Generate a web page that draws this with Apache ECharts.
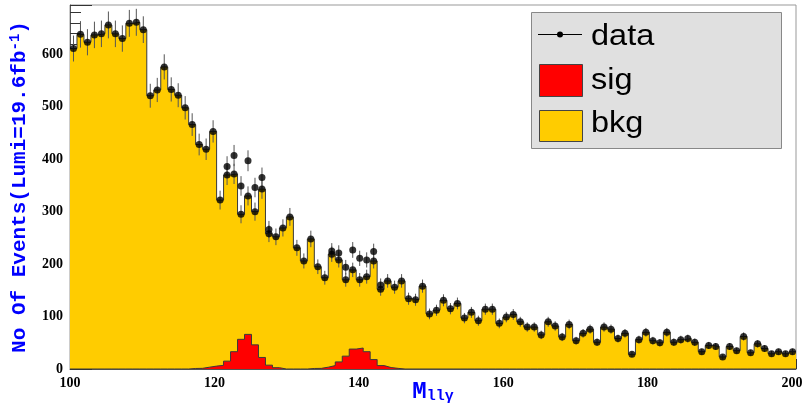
<!DOCTYPE html>
<html><head><meta charset="utf-8">
<script src="https://cdn.jsdelivr.net/npm/echarts@6/dist/echarts.min.js"></script>
<style>html,body{margin:0;padding:0;background:#fff}#c{width:803px;height:406px}</style>
</head><body><div id="c"></div>
<script>
// ---- data ----
const xTicks = [100, 120, 140, 160, 180, 200];
const yTicks = [0, 100, 200, 300, 400, 500, 600];
const X_MIN = 100, X_MAX = 200.55;   // histogram range (frame)
const Y_MAX = 694;

// background histogram (= data in bkg-only bins), 104 bins
const bkg = [611,638,623,637,639,656,639,630,659,661,647,521,532,576,533,522,498,466,428,419,
             453,322,370,372,295,330,300,343,258,252,269,290,231,206,248,195,174,219,208,170,
             189,170,176,206,152,168,156,168,134,132,158,105,112,131,115,125,97,108,92,114,
             114,87,99,104,90,80,80,65,90,82,61,85,54,68,76,51,80,76,58,68,
             28,56,70,54,50,70,51,56,58,51,33,45,43,23,43,35,62,31,48,39,
             29,33,29,33];
// signal histogram, 104 bins
const sig = [0,0,0,0,0,0,0,0,0,0,0,0,0,0,0,0,0,1,1.3,3.5,
             5.5,7,15,33,56.6,66,46,22,7.3,2.5,0,0,0,0,1,1.2,3.5,6.5,13.5,24.5,
             38,40,33,18,6.5,2.8,1.2,0,0,0,0,0,0,0,0,0,0,0,0,0,
             0,0,0,0,0,0,0,0,0,0,0,0,0,0,0,0,0,0,0,0,
             0,0,0,0,0,0,0,0,0,0,0,0,0,0,0,0,0,0,0,0,
             0,0,0,0];
// second set of data points in the signal regions (bin index, value)
const extraBins = [22,23,24,25,26,27,28,37,38,39,40,41,42,43,44];
const extraVals = [386,407,349,397,346,365,266,225,221,194,227,211,208,224,160];

// ---- build series data ----
const n = bkg.length;
const w = (X_MAX - X_MIN) / n;
const edges = bkg.map((_, i) => X_MIN + i * w);
const centers = edges.map(e => e + w / 2);
function stepData(vals) {
  const d = vals.map((v, i) => [edges[i], v]);
  d.push([X_MAX, vals[vals.length - 1]]);
  return d;
}
const dataPts = bkg.map((v, i) => [centers[i], v])
  .concat(extraBins.map((b, k) => [centers[b], extraVals[k]]));

const tickFont = {fontFamily: 'Liberation Serif', fontWeight: 'bold', fontSize: 14, color: '#000'};
const blueMono = {fontFamily: 'Liberation Mono', fontWeight: 'bold', color: '#0000ff'};

const chart = echarts.init(document.getElementById('c'), null, {renderer: 'canvas'});
chart.setOption({
  animation: false,
  backgroundColor: '#fff',
  grid: {left: 70, top: 5, width: 726, height: 364, containLabel: false, outerBoundsMode: 'none',
         show: true, borderColor: '#999', borderWidth: 1, backgroundColor: 'transparent'},
  xAxis: [
    {type: 'value', min: X_MIN, max: X_MAX, interval: 20, position: 'bottom',
     axisLine: {show: true, lineStyle: {color: '#555', width: 1}},
     axisTick: {show: true, inside: true, length: 10, lineStyle: {color: '#333'}},
     axisLabel: Object.assign({margin: 7, formatter: v => xTicks.indexOf(v) >= 0 ? String(v) : ''}, tickFont),
     splitLine: {show: false},
     name: '{m|M}{s|llγ}', nameLocation: 'middle', nameGap: 10, nameMoveOverlap: false,
     nameTextStyle: {rich: {m: Object.assign({fontSize: 24}, blueMono), s: Object.assign({fontSize: 15, padding: [10, 0, 0, 0]}, blueMono)}}},
    {type: 'value', min: X_MIN, max: X_MAX, interval: 5, position: 'bottom', offset: 0,
     axisLine: {show: false}, axisLabel: {show: false}, splitLine: {show: false},
     axisTick: {show: true, inside: true, length: 5, lineStyle: {color: '#333'}}}
  ],
  yAxis: [
    {type: 'value', min: 0, max: Y_MAX, interval: 100, position: 'left',
     axisLine: {show: true, lineStyle: {color: '#555', width: 1}},
     axisTick: {show: true, inside: true, length: 22, lineStyle: {color: '#333'}},
     axisLabel: Object.assign({margin: 7, formatter: v => yTicks.indexOf(v) >= 0 ? String(v) : ''}, tickFont),
     splitLine: {show: false},
     name: '{a|No Of Events(Lumi=19.6fb}{s|-1}{a|)}', nameLocation: 'middle', nameGap: 38, nameRotate: 90, nameMoveOverlap: false,
     nameTextStyle: {rich: {a: Object.assign({fontSize: 21}, blueMono), s: Object.assign({fontSize: 14, verticalAlign: 'top', padding: [0, 0, 10, 0]}, blueMono)}}},
    {type: 'value', min: 0, max: Y_MAX, interval: 20, position: 'left', offset: 0,
     axisLine: {show: false}, axisLabel: {show: false}, splitLine: {show: false},
     axisTick: {show: true, inside: true, length: 11, lineStyle: {color: '#333'}}}
  ],
  series: [
    {name: 'bkg', type: 'line', step: 'end', data: stepData(bkg), symbol: 'none', z: 1,
     lineStyle: {color: '#3a3a3a', width: 1}, areaStyle: {color: '#ffcc00', opacity: 1}},
    {name: 'sig', type: 'line', step: 'end', data: stepData(sig), symbol: 'none', z: 2,
     lineStyle: {color: '#3a3a3a', width: 1}, areaStyle: {color: '#ff0000', opacity: 1}},
    {name: 'err', type: 'custom', data: dataPts, z: 3,
     renderItem: function (params, api) {
       const x = api.value(0), v = api.value(1), e = Math.sqrt(v);
       const p1 = api.coord([x, v + e]), p2 = api.coord([x, v - e]);
       return {type: 'line', shape: {x1: p1[0], y1: p1[1], x2: p2[0], y2: p2[1]},
               style: {stroke: '#555', lineWidth: 1}};
     }},
    {name: 'data', type: 'scatter', data: dataPts, symbol: 'circle', symbolSize: 7, z: 4,
     itemStyle: {color: '#000'}}
  ],
  graphic: [
    {type: 'rect', z: 10, shape: {x: 531.5, y: 12.5, width: 250, height: 136}, style: {fill: '#e0e0e0', stroke: '#888', lineWidth: 1}},
    {type: 'line', z: 11, shape: {x1: 538, y1: 34.5, x2: 582, y2: 34.5}, style: {stroke: '#000', lineWidth: 1}},
    {type: 'circle', z: 11, shape: {cx: 560, cy: 34.5, r: 3}, style: {fill: '#000'}},
    {type: 'rect', z: 11, shape: {x: 539.5, y: 64.5, width: 43, height: 32}, style: {fill: '#ff0000', stroke: '#444', lineWidth: 1}},
    {type: 'rect', z: 11, shape: {x: 539.5, y: 110.5, width: 43, height: 31}, style: {fill: '#ffcc00', stroke: '#444', lineWidth: 1}},
    {type: 'text', z: 11, x: 591, y: 37, scaleX: 1.12, style: {text: 'data', font: '29px "Liberation Sans"', fill: '#000', verticalAlign: 'middle'}},
    {type: 'text', z: 11, x: 591, y: 81, scaleX: 1.12, style: {text: 'sig', font: '29px "Liberation Sans"', fill: '#000', verticalAlign: 'middle'}},
    {type: 'text', z: 11, x: 591, y: 124, scaleX: 1.12, style: {text: 'bkg', font: '29px "Liberation Sans"', fill: '#000', verticalAlign: 'middle'}}
  ]
});
</script>
</body></html>
